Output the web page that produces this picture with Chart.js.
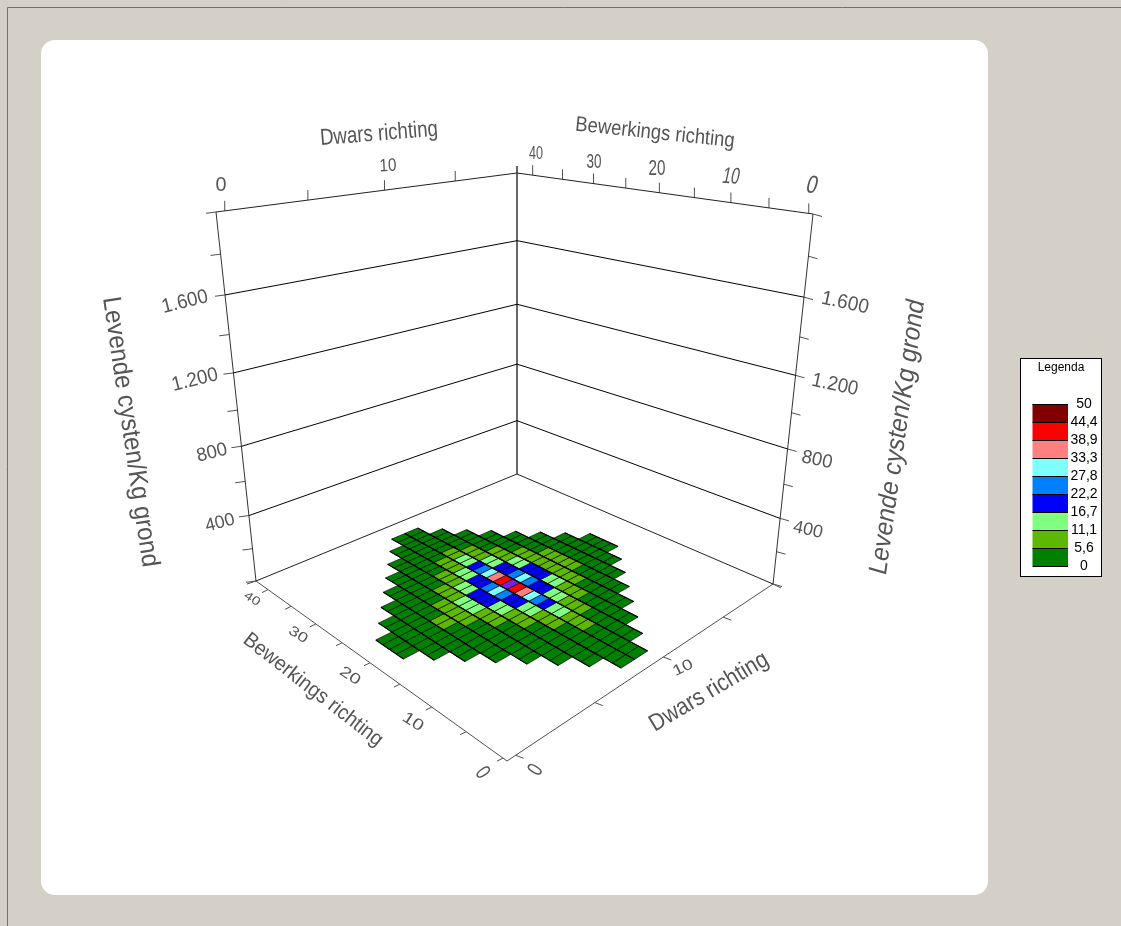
<!DOCTYPE html>
<html><head><meta charset="utf-8">
<style>html,body{margin:0;padding:0;background:#D4D0C8;overflow:hidden}canvas{display:block}</style>
<script src="https://cdn.jsdelivr.net/npm/chart.js@4"></script>
</head><body><canvas id="c" width="1121" height="926"></canvas>
<script>
// ---- data ----
const zTicks = [0,200,400,600,800,1000,1200,1400,1600,1800,2000];
const zGridLines = [400,800,1200,1600];
const dwarsTicks = [0,5,10,15];
const bewerkingsTicks = [0,5,10,15,20,25,30,35,40];
const legendValues = ['50','44,4','38,9','33,3','27,8','22,2','16,7','11,1','5,6','0'];
const bandLimits = [5.6,11.1,16.7,22.2,27.8,33.3,38.9,44.4,50];
const bandColors = ['#008000','#5CB800','#80FF80','#0000FF','#0080FF','#80FFFF','#FF8080','#FF0000','#800000'];
const overColor = '#7B1FE0';
const rowStart = [14,12,10,8,6,4,2,0,0,2,4,6,8,10,12,14];
const rowValues = [
 [3,3,3,3],
 [3,3,3,3,3,3,3,3],
 [3,3,3,3,3,3,3,3,3,3,3,3],
 [3,3,3,3,3,3,3,8,8,3,3,3,3,3,3,3],
 [3,3,3,3,3,3,3,8,8,8,8,8,3,3,3,3,3,3,3,3],
 [3,3,3,3,3,3,3,8,8,8,14,14,14,8,8,8,3,3,3,3,3,3,3,3],
 [3,3,3,3,3,3,3,8,8,8,14,14,19,19,19,14,14,8,8,8,3,3,3,3,3,3,3,3],
 [3,3,3,3,3,3,3,8,8,8,14,14,19,19,25,30,25,19,19,14,14,8,8,8,3,3,3,3,3,3,3,3],
 [3,3,3,3,3,3,8,8,14,14,19,25,30,36,41,55,41,36,30,25,19,14,14,8,8,8,3,3,3,3,3,3],
 [3,3,3,3,3,8,8,8,14,14,19,19,25,30,25,19,19,14,14,8,8,8,3,3,3,3,3,3],
 [3,3,3,3,3,8,8,8,14,14,19,19,19,14,14,8,8,8,3,3,3,3,3,3],
 [3,3,3,3,3,8,8,8,8,8,8,8,8,8,3,3,3,3,3,3],
 [3,3,3,3,3,8,8,8,8,8,3,3,3,3,3,3],
 [3,3,3,3,3,3,3,3,3,3,3,3],
 [3,3,3,3,3,3,3,3],
 [3,3,3,3]
];
// ---- axis domains and surface grid (data units) ----
const uMin=-0.52,uMax=42.7,vMin=-0.5,vMax=19.7,zMax=2000;
const uFirst=39.7,uStep=1.2,vFirst=0.85,vStep=1.0;
// ---- view: floor and ceiling corners of the 3D box, in chart units ----
const floorBox={F:[507,761],L:[256,581],R:[773,584],B:[517,474]};
const ceilBox ={F:[505,271],L:[216,212],R:[813,214],B:[517,173]};
const zPersp=0.16;
function homography(p00,p10,p01,p11){
  const dx1=p10[0]-p11[0],dx2=p01[0]-p11[0],sx=p00[0]-p10[0]+p11[0]-p01[0];
  const dy1=p10[1]-p11[1],dy2=p01[1]-p11[1],sy=p00[1]-p10[1]+p11[1]-p01[1];
  const den=dx1*dy2-dx2*dy1;
  const g=(sx*dy2-dx2*sy)/den,h=(dx1*sy-sx*dy1)/den;
  const a=p10[0]-p00[0]+g*p10[0],b=p01[0]-p00[0]+h*p01[0];
  const d=p10[1]-p00[1]+g*p10[1],e=p01[1]-p00[1]+h*p01[1];
  return (s,t)=>{const w=g*s+h*t+1;return [(a*s+b*t+p00[0])/w,(d*s+e*t+p00[1])/w];};
}
const H0=homography(floorBox.F,floorBox.L,floorBox.R,floorBox.B);
const H1=homography(ceilBox.F,ceilBox.L,ceilBox.R,ceilBox.B);
function project(u,v,z){
  const s=(u-uMin)/(uMax-uMin),t=(v-vMin)/(vMax-vMin),zn=z/zMax;
  const f=zn/(1+zPersp*(1-zn));
  const a=H0(s,t),b=H1(s,t);
  return {x:a[0]+(b[0]-a[0])*f,y:a[1]+(b[1]-a[1])*f};
}
const off=(p,dx,dy)=>({x:p.x+dx,y:p.y+dy});
function colorFor(val){
  if(val>50) return overColor;
  for(let k=0;k<bandLimits.length;k++) if(val<=bandLimits[k]) return bandColors[k];
  return bandColors[8];
}
// ---- datasets ----
const datasets=[];
function line(pts,color,width,order){datasets.push({type:'scatter',showLine:true,data:pts,borderColor:color,borderWidth:width,pointRadius:0,tension:0,fill:false,borderCapStyle:'butt',order:order===undefined?1:order});}
const WALL='#222222',EDGE='#505050';
// cells
rowValues.forEach((vals,j)=>{
  vals.forEach((val,k)=>{
    const i=rowStart[j]+k;
    const u0=uFirst-i*uStep,u1=u0-uStep,v0=vFirst+j*vStep,v1=v0+vStep;
    const c=[project(u0,v0,0),project(u1,v0,0),project(u1,v1,0),project(u0,v1,0)];
    datasets.push({type:'scatter',showLine:true,data:[...c,c[0]],backgroundColor:colorFor(val),fill:'shape',borderColor:'#0a0a0a',borderWidth:0.7,pointRadius:0,tension:0,order:0});
  });
  // heavier line along each row edge of the surface
  const a=uFirst-rowStart[j]*uStep,b=a-vals.length*uStep;
  [vFirst+j*vStep,vFirst+(j+1)*vStep].forEach(v=>line([project(a,v,0),project(b,v,0)],'#000',1.1,-1));
});
// walls
zGridLines.forEach(z=>{
  line([project(uMax,vMin,z),project(uMax,vMax,z),project(uMin,vMax,z)],'#000',1);
});
line([project(uMax,vMin,zMax),project(uMax,vMax,zMax),project(uMin,vMax,zMax)],WALL,1);
line([project(uMax,vMin,0),project(uMax,vMax,0),project(uMin,vMax,0)],WALL,1);
line([project(uMax,vMin,0),project(uMin,vMin,0),project(uMin,vMax,0)],EDGE,1);
line([project(uMax,vMin,0),project(uMax,vMin,zMax)],'#333',1);
line([project(uMin,vMax,0),project(uMin,vMax,zMax)],'#333',1);
line([project(uMax,vMax,0),off(project(uMax,vMax,zMax),0,-7)],'#000',1.2);
// ticks
zTicks.forEach(z=>{
  const l=project(uMax,vMin,z); line([l,off(l,-10,1.3)],EDGE,1);
  const r=project(uMin,vMax,z); line([r,off(r,9,2.5)],EDGE,1);
});
dwarsTicks.forEach(v=>{
  const top=project(uMax,v,zMax); line([top,off(top,0,-10)],EDGE,1);
  const fl=project(uMin,v,0); line([fl,off(fl,8,3)],EDGE,1);
});
bewerkingsTicks.forEach(u=>{
  const top=project(u,vMax,zMax); line([top,off(top,0,-10)],EDGE,1);
  const fl=project(u,vMin,0); line([fl,off(fl,-6,3)],EDGE,1);
});
const cL=project(uMax,vMin,0); line([cL,off(cL,-9,3)],EDGE,1);
const cR=project(uMin,vMax,0); line([cR,off(cR,8,4)],EDGE,1);
// ---- labels: text, centre x, centre y, angle, width, font size, shear ----
const TXT='#555555';
const labels=[
 ['Dwars richting',379,134,-4.6,118,23,0],
 ['Bewerkings richting',655,133,6,160,21,0],
 ['0',221,185,0,11,21,0],['10',388,166,-3,17,18,0],
 ['40',536,154,0,14,18,0],['30',594,162,0,15,20,0],['20',657,169,0,17,22,0],['10',731,177,4,17,23,-8],['0',812,186,5,11,25,-10],
 ['1.600',185,302,-14,47,20,0],['1.200',195,380,-14,47,20,0],['800',212,453,-14,31,19,0],['400',220,523,-14,30,18,0],
 ['1.600',845,303,12,48,20,0],['1.200',835,385,12,47,20,0],['800',817,460,12,31,19,0],['400',808,530,12,30,18,0],
 ['Levende cysten/Kg grond',130,432,81.6,273,26,0],
 ['Levende cysten/Kg grond',898,437,-82,277,26,-8],
 ['Bewerkings richting',313,690,37.9,171,21,0],
 ['Dwars richting',709,692,-30.7,134,24,0],
 ['0',482,773,55,9,22,0],['10',413,722,33,22,16,0],['20',350,676,33,22,15,0],['30',298,635,33,20,14,0],['40',252,599,33,17,12,0],
 ['0',536,770,-60,9,22,0],['10',683,668,-26,21,15,0]
];
function roundRect(ctx,x,y,w,h,r){ctx.beginPath();ctx.moveTo(x+r,y);ctx.arcTo(x+w,y,x+w,y+h,r);ctx.arcTo(x+w,y+h,x,y+h,r);ctx.arcTo(x,y+h,x,y,r);ctx.arcTo(x,y,x+w,y,r);ctx.closePath();}
const backdrop={id:'backdrop',beforeDraw(chart){
  const c=chart.ctx;c.save();
  c.fillStyle='#D4D0C8';c.fillRect(0,0,1121,926);
  c.strokeStyle='#707070';c.lineWidth=1;c.beginPath();c.moveTo(7.5,926);c.lineTo(7.5,7.5);c.lineTo(1121,7.5);c.stroke();
  c.fillStyle='#fff';roundRect(c,41,40,947,855,14);c.fill();
  c.restore();
}};
const texts={id:'texts',afterDatasetsDraw(chart){
  const c=chart.ctx;
  labels.forEach(([t,x,y,ang,w,size,shear])=>{
    c.save();c.translate(x,y);c.rotate(ang*Math.PI/180);
    c.transform(1,0,Math.tan(shear*Math.PI/180),1,0,0);
    c.font=size+'px "Liberation Sans", Arial, sans-serif';
    c.fillStyle=TXT;c.textAlign='center';c.textBaseline='middle';
    const m=c.measureText(t).width;c.scale(w/m,1);c.fillText(t,0,0);c.restore();
  });
  // legend box
  c.save();
  c.fillStyle='#fff';c.fillRect(1020.5,358.5,81,218);
  c.strokeStyle='#000';c.lineWidth=1;c.strokeRect(1020.5,358.5,81,218);
  c.fillStyle='#000';c.font='12px "Liberation Sans", Arial, sans-serif';c.textAlign='center';c.textBaseline='middle';
  c.fillText('Legenda',1061,368);
  const top=404,rowH=18;
  bandColors.slice().reverse().forEach((col,k)=>{
    c.fillStyle=col;c.fillRect(1032.5,top+k*rowH,35.5,rowH);
    c.strokeStyle='#000';c.lineWidth=1;c.beginPath();c.moveTo(1032.5,top+k*rowH+.5);c.lineTo(1068,top+k*rowH+.5);c.stroke();
  });
  c.beginPath();c.moveTo(1032.5,top+9*rowH+.5);c.lineTo(1068,top+9*rowH+.5);c.stroke();
  c.fillStyle='#000';c.font='14px "Liberation Sans", Arial, sans-serif';
  legendValues.forEach((t,k)=>c.fillText(t,1084,top+k*rowH));
  c.restore();
}};
new Chart(document.getElementById('c'),{
  type:'scatter',
  data:{datasets},
  plugins:[backdrop,texts],
  options:{responsive:false,animation:false,parsing:false,normalized:true,devicePixelRatio:1,
    layout:{padding:0},
    plugins:{legend:{display:false},tooltip:{enabled:false},title:{display:false}},
    events:[],
    scales:{x:{type:'linear',min:0,max:1121,display:false},y:{type:'linear',min:0,max:926,reverse:true,display:false}}
  }
});
</script></body></html>
